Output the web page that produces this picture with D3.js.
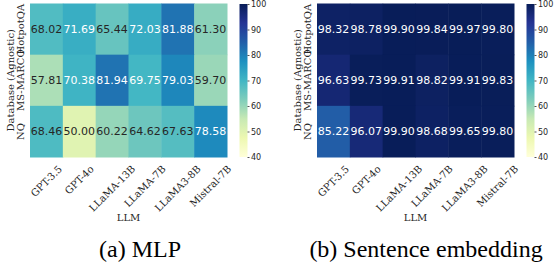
<!DOCTYPE html>
<html><head><meta charset="utf-8">
<script src="https://cdn.jsdelivr.net/npm/d3@7"></script>
<style>body{margin:0;background:#fff}svg{display:block}</style>
</head><body>
<svg id="c" width="555" height="266"></svg>
<script>
const llms = ["GPT-3.5","GPT-4o","LLaMA-13B","LLaMA-7B","LLaMA3-8B","Mistral-7B"];
const datasets = ["HotpotQA","MS-MARCO","NQ"];
const mlpValues = [
  [68.02,71.69,65.44,72.03,81.88,61.30],
  [57.81,70.38,81.94,69.75,79.03,59.70],
  [68.46,50.00,60.22,64.62,67.63,78.58]
];
const embValues = [
  [98.32,98.78,99.90,99.84,99.97,99.80],
  [96.63,99.73,99.91,98.82,99.91,99.83],
  [85.22,96.07,99.90,98.68,99.65,99.80]
];
const cbTicks = [40,50,60,70,80,90,100];
const captions = ["(a) MLP","(b) Sentence embedding"];
const xLabel = "LLM", yLabel = "Database (Agnostic)";

const stops = ['#ffffd9','#edf8b1','#c7e9b4','#7fcdbb','#41b6c4','#1d91c0','#225ea8','#253494','#081d58'];
const vmin = 40, vmax = 100;
const color = d3.scaleLinear()
  .domain(stops.map((_,i)=>vmin + (vmax-vmin)*i/(stops.length-1)))
  .range(stops).interpolate(d3.interpolateRgb).clamp(true);

function lum(c){
  const r = d3.rgb(c);
  const f = v => { v/=255; return v<=0.03928 ? v/12.92 : Math.pow((v+0.055)/1.055,2.4); };
  return 0.2126*f(r.r)+0.7152*f(r.g)+0.0722*f(r.b);
}

const svg = d3.select("#c");
const defs = svg.append("defs");
const grad = defs.append("linearGradient").attr("id","cbg").attr("x1",0).attr("y1",1).attr("x2",0).attr("y2",0);
stops.forEach((s,i)=>grad.append("stop").attr("offset",i/(stops.length-1)).attr("stop-color",s));

const serif = "'DejaVu Serif', serif";
const capFont = "'Liberation Serif', 'Times New Roman', Times, serif";
const yTop = 3.5, yBottom = 157, W = 197;
function panel(ox, values, caption, capX){
  const g = svg.append("g");
  const x = d3.scaleBand().domain(llms).range([ox, ox+W]);
  const y = d3.scaleBand().domain(datasets).range([yTop, yBottom]);
  datasets.forEach((ds,ri)=>{
    llms.forEach((lm,ci)=>{
      const v = values[ri][ci];
      g.append("rect").attr("x",x(lm)).attr("y",y(ds))
        .attr("width",x.bandwidth()+0.5).attr("height",y.bandwidth()+0.5).attr("fill",color(v));
    });
  });
  datasets.forEach((ds,ri)=>{
    llms.forEach((lm,ci)=>{
      const v = values[ri][ci];
      const c = color(v);
      g.append("text").attr("x",x(lm)+x.bandwidth()/2).attr("y",y(ds)+y.bandwidth()/2)
        .attr("text-anchor","middle").attr("dominant-baseline","central")
        .attr("font-family","'DejaVu Sans', sans-serif").attr("font-size",11)
        .attr("fill", lum(c) > 0.408 ? "#262626" : "#ffffff")
        .text(v.toFixed(2));
    });
  });
  llms.forEach(lm=>{
    const t = g.append("text").attr("font-family",serif).attr("font-size",10)
      .attr("fill","#262626").attr("text-anchor","middle").attr("dominant-baseline","central").text(lm);
    const w = t.node().getComputedTextLength();
    const h = 9;
    const half = (w+h)/(2*Math.SQRT2);
    t.attr("transform",`translate(${x(lm)+x.bandwidth()/2},${yBottom+7+half}) rotate(-45)`);
  });
  g.append("text").attr("x",ox+W/2).attr("y",221).attr("text-anchor","middle")
    .attr("font-family",serif).attr("font-size",10).attr("fill","#262626").text(xLabel);
  datasets.forEach(ds=>{
    g.append("text").attr("transform",`translate(${ox-6},${y(ds)+y.bandwidth()/2}) rotate(-90)`)
      .attr("text-anchor","middle").attr("font-family",serif).attr("font-size",10)
      .attr("fill","#262626").text(ds);
  });
  g.append("text").attr("transform",`translate(${ox-16.5},${(yTop+yBottom)/2}) rotate(-90)`)
    .attr("text-anchor","middle").attr("font-family",serif).attr("font-size",10)
    .attr("fill","#262626").text(yLabel);
  const cbx = ox + W + 12.5, cbw = 8;
  const cy = d3.scaleLinear().domain([vmin,vmax]).range([yBottom, yTop+0.5]);
  g.append("rect").attr("x",cbx).attr("y",cy(vmax)).attr("width",cbw).attr("height",cy(vmin)-cy(vmax)).attr("fill","url(#cbg)");
  const ax = d3.axisRight(cy).tickValues(cbTicks).tickSize(2).tickPadding(1.5).tickFormat(d3.format("d"));
  const ag = g.append("g").attr("transform",`translate(${cbx+cbw},0)`).call(ax);
  ag.select(".domain").remove();
  ag.selectAll("line").attr("stroke","#262626").attr("stroke-width",0.8);
  ag.selectAll("text").attr("font-family","'DejaVu Sans', sans-serif").attr("font-size",8).attr("fill","#262626");
  svg.append("text").attr("x",capX).attr("y",257).attr("text-anchor","middle")
    .attr("font-family",capFont).attr("font-size",24).attr("fill","#000").text(caption);
}
panel(30, mlpValues, captions[0], 140);
panel(317, embValues, captions[1], 426);
</script>
</body></html>
